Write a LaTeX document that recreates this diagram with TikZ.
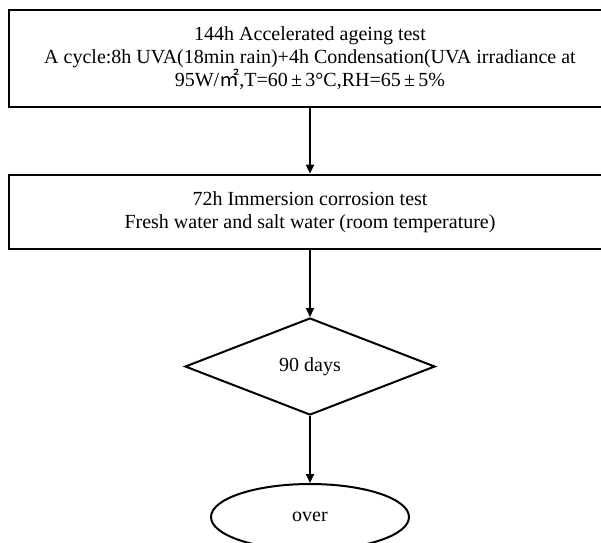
\documentclass[tikz,border=0pt]{standalone}
\usepackage{fontspec}
\setmainfont{Liberation Serif}
\newfontfamily\cjk{Noto Sans CJK SC}
\usepackage{tikz}
\usetikzlibrary{arrows.meta, shapes.geometric}

\begin{document}
\begin{tikzpicture}[
        x=1pt, y=-1pt,
        every node/.style={font=\fontsize{20}{23}\selectfont, inner sep=0pt},
        testbox/.style={draw, line width=2.8pt, rectangle, minimum width=602pt, align=center},
        check/.style={draw, line width=2pt, diamond, minimum width=250pt, minimum height=97pt},
        stop/.style={draw, line width=2pt, ellipse, minimum width=198pt, minimum height=66pt},
        flow/.style={line width=2pt, -{Triangle[length=9pt, width=8pt]}}
    ]
        % page frame, the boxes run past the right edge
        \useasboundingbox (0,0) rectangle (601,542);
        \clip (0,0) rectangle (601,542);

        % test steps
        \node[testbox, minimum height=97pt] (ageing) at (310, 58.5)
            {144h Accelerated ageing test\\
             A cycle:8h UVA(18min rain)+4h Condensation(UVA irradiance at\\
             95W/{\cjk ㎡},T=60\,±\,3°C,RH=65\,±\,5\%};
        \node[testbox, minimum height=74pt] (immersion) at (310, 212)
            {72h Immersion corrosion test\\
             Fresh water and salt water (room temperature)};

        % period and end
        \node[check] (days) at (310, 366.5) {90 days};
        \node[stop] (over) at (310, 517) {over};

        \draw[flow] (ageing) -- (immersion);
        \draw[flow] (immersion) -- (days);
        \draw[flow] (days) -- (over);
    \end{tikzpicture}
\end{document}
